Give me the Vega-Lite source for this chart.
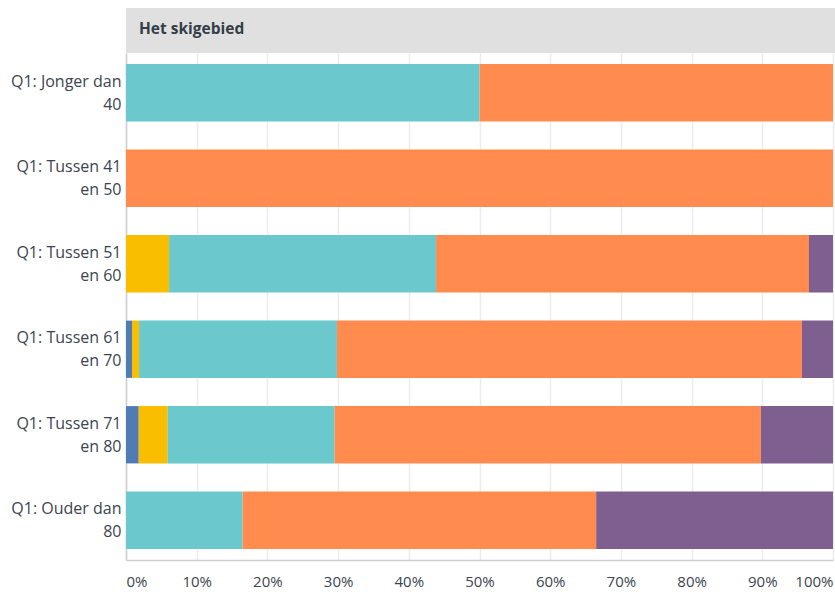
{
  "$schema": "https://vega.github.io/schema/vega-lite/v6.json",
  "padding": {"left": 0, "top": 8, "right": 0, "bottom": 0},
  "background": "white",
  "config": {"font": "Open Sans", "view": {"stroke": null}},
  "bounds": "flush",
  "spacing": 0,
  "vconcat": [
    {
      "width": 709,
      "height": 45,
      "view": {"fill": "#e0e0e0", "stroke": null},
      "data": {"values": [{"kop": "Het skigebied"}]},
      "mark": {"type": "text", "align": "left", "baseline": "middle", "fontSize": 15.5, "fontWeight": "bold", "color": "#333e48", "x": 13, "y": 21},
      "encoding": {"text": {"field": "kop", "type": "nominal"}}
    },
    {
      "width": 707,
      "height": 507,
      "data": {
        "values": [
          {"groep": "Q1: Jonger dan 40", "antwoord": "Neutraal", "rang": 3, "pct": 50},
          {"groep": "Q1: Jonger dan 40", "antwoord": "Goed", "rang": 4, "pct": 50},
          {"groep": "Q1: Tussen 41 en 50", "antwoord": "Goed", "rang": 4, "pct": 100},
          {"groep": "Q1: Tussen 51 en 60", "antwoord": "Slecht", "rang": 2, "pct": 6.1},
          {"groep": "Q1: Tussen 51 en 60", "antwoord": "Neutraal", "rang": 3, "pct": 37.8},
          {"groep": "Q1: Tussen 51 en 60", "antwoord": "Goed", "rang": 4, "pct": 52.8},
          {"groep": "Q1: Tussen 51 en 60", "antwoord": "Uitstekend", "rang": 5, "pct": 3.4},
          {"groep": "Q1: Tussen 61 en 70", "antwoord": "Zeer slecht", "rang": 1, "pct": 0.85},
          {"groep": "Q1: Tussen 61 en 70", "antwoord": "Slecht", "rang": 2, "pct": 1.0},
          {"groep": "Q1: Tussen 61 en 70", "antwoord": "Neutraal", "rang": 3, "pct": 28.0},
          {"groep": "Q1: Tussen 61 en 70", "antwoord": "Goed", "rang": 4, "pct": 65.8},
          {"groep": "Q1: Tussen 61 en 70", "antwoord": "Uitstekend", "rang": 5, "pct": 4.4},
          {"groep": "Q1: Tussen 71 en 80", "antwoord": "Zeer slecht", "rang": 1, "pct": 1.8},
          {"groep": "Q1: Tussen 71 en 80", "antwoord": "Slecht", "rang": 2, "pct": 4.1},
          {"groep": "Q1: Tussen 71 en 80", "antwoord": "Neutraal", "rang": 3, "pct": 23.6},
          {"groep": "Q1: Tussen 71 en 80", "antwoord": "Goed", "rang": 4, "pct": 60.3},
          {"groep": "Q1: Tussen 71 en 80", "antwoord": "Uitstekend", "rang": 5, "pct": 10.2},
          {"groep": "Q1: Ouder dan 80", "antwoord": "Neutraal", "rang": 3, "pct": 16.5},
          {"groep": "Q1: Ouder dan 80", "antwoord": "Goed", "rang": 4, "pct": 50.0},
          {"groep": "Q1: Ouder dan 80", "antwoord": "Uitstekend", "rang": 5, "pct": 33.5}
        ]
      },
      "mark": {"type": "bar"},
      "encoding": {
        "y": {
          "field": "groep",
          "type": "nominal",
          "sort": ["Q1: Jonger dan 40", "Q1: Tussen 41 en 50", "Q1: Tussen 51 en 60", "Q1: Tussen 61 en 70", "Q1: Tussen 71 en 80", "Q1: Ouder dan 80"],
          "title": null,
          "scale": {"paddingInner": 0.33, "paddingOuter": 0.13},
          "axis": {
            "ticks": false,
            "grid": false,
            "labelPadding": 5,
            "labelFontSize": 16,
            "labelColor": "#3b4550",
            "labelLineHeight": 23,
            "labelBaseline": "middle",
            "labelOffset": -11,
            "labelLimit": 200,
            "domainColor": "#cfcfcf",
            "domainWidth": 1.5,
            "minExtent": 126,
            "maxExtent": 126,
            "labelExpr": "indexof(datum.label, ' en ') >= 0 ? [slice(datum.label, 0, indexof(datum.label, ' en ')), slice(datum.label, indexof(datum.label, ' en ') + 1)] : [slice(datum.label, 0, lastindexof(datum.label, ' ')), slice(datum.label, lastindexof(datum.label, ' ') + 1)]"
          }
        },
        "x": {
          "field": "pct",
          "type": "quantitative",
          "stack": "normalize",
          "title": null,
          "axis": {
            "values": [0, 0.1, 0.2, 0.3, 0.4, 0.5, 0.6, 0.7, 0.8, 0.9, 1],
            "format": ".0%",
            "ticks": false,
            "grid": true,
            "gridColor": "#ececec",
            "gridWidth": 1.5,
            "labelFlush": true,
            "labelPadding": 14,
            "labelFontSize": 15,
            "labelColor": "#3b4550",
            "domainColor": "#cfcfcf",
            "domainWidth": 1.5
          }
        },
        "color": {
          "field": "antwoord",
          "type": "nominal",
          "scale": {
            "domain": ["Zeer slecht", "Slecht", "Neutraal", "Goed", "Uitstekend"],
            "range": ["#507cb6", "#f9be00", "#6bc8cd", "#ff8b4f", "#7f5f90"]
          },
          "legend": null
        },
        "order": {"field": "rang", "type": "quantitative"}
      }
    }
  ]
}
